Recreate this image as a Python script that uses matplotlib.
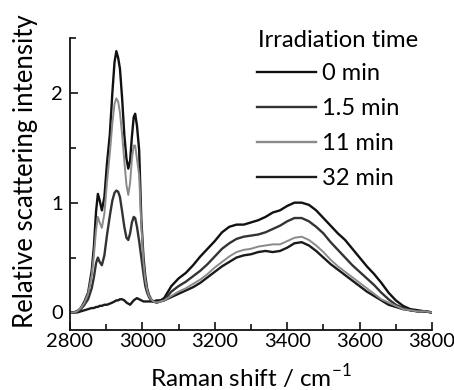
import matplotlib
matplotlib.use("Agg")
import matplotlib.pyplot as plt

plt.rcParams['font.family'] = ['Lato', 'DejaVu Sans']

# Raman shift (cm^-1)
shift = [2800, 2810, 2820, 2830, 2840, 2850, 2860, 2866, 2872, 2877, 2882, 2888, 2895,
         2902, 2910, 2917, 2923, 2928, 2933, 2938, 2944, 2950, 2956, 2961, 2966, 2971,
         2976, 2980, 2985, 2991, 2997, 3003, 3008, 3013, 3018, 3024, 3030, 3040, 3050,
         3060, 3080, 3100, 3120, 3140, 3160, 3180, 3200, 3220, 3240, 3260, 3280, 3300,
         3320, 3340, 3360, 3380, 3400, 3420, 3440, 3460, 3480, 3500, 3520, 3540, 3560,
         3580, 3600, 3620, 3640, 3660, 3680, 3700, 3720, 3740, 3760, 3780, 3800]

t0_min = [0.00, 0.00, 0.01, 0.04, 0.10, 0.18, 0.38, 0.60, 0.92, 1.08, 1.02, 0.93, 1.05,
          1.35, 1.62, 2.00, 2.28, 2.38, 2.32, 2.22, 1.95, 1.62, 1.40, 1.31, 1.38, 1.60,
          1.78, 1.81, 1.70, 1.48, 0.85, 0.50, 0.33, 0.22, 0.16, 0.12, 0.10, 0.09, 0.11,
          0.13, 0.24, 0.31, 0.36, 0.43, 0.51, 0.58, 0.65, 0.73, 0.78, 0.80, 0.80, 0.82,
          0.84, 0.87, 0.91, 0.93, 0.97, 1.00, 1.00, 0.98, 0.93, 0.86, 0.79, 0.72, 0.66,
          0.58, 0.50, 0.42, 0.35, 0.27, 0.18, 0.11, 0.06, 0.03, 0.02, 0.01, 0.00]

t1_5_min = [0.00, 0.00, 0.01, 0.03, 0.07, 0.12, 0.22, 0.32, 0.45, 0.50, 0.46, 0.43, 0.52,
            0.70, 0.88, 1.02, 1.09, 1.11, 1.10, 1.05, 0.92, 0.78, 0.68, 0.66, 0.72, 0.82,
            0.87, 0.86, 0.78, 0.65, 0.50, 0.35, 0.24, 0.18, 0.14, 0.11, 0.10, 0.09, 0.10,
            0.11, 0.19, 0.24, 0.28, 0.33, 0.38, 0.44, 0.51, 0.58, 0.63, 0.67, 0.69, 0.70,
            0.71, 0.73, 0.76, 0.79, 0.83, 0.86, 0.86, 0.83, 0.78, 0.72, 0.64, 0.57, 0.50,
            0.43, 0.37, 0.31, 0.25, 0.18, 0.12, 0.07, 0.04, 0.02, 0.01, 0.01, 0.00]

t11_min = [0.00, 0.00, 0.01, 0.04, 0.09, 0.17, 0.34, 0.52, 0.75, 0.87, 0.82, 0.77, 0.90,
           1.18, 1.45, 1.72, 1.90, 1.95, 1.92, 1.82, 1.62, 1.38, 1.16, 1.07, 1.18, 1.40,
           1.52, 1.52, 1.40, 1.25, 0.80, 0.46, 0.30, 0.21, 0.15, 0.12, 0.10, 0.09, 0.10,
           0.11, 0.15, 0.19, 0.22, 0.26, 0.30, 0.35, 0.41, 0.46, 0.51, 0.55, 0.57, 0.58,
           0.60, 0.61, 0.62, 0.62, 0.65, 0.68, 0.69, 0.66, 0.61, 0.55, 0.48, 0.42, 0.37,
           0.32, 0.27, 0.22, 0.17, 0.12, 0.09, 0.06, 0.03, 0.02, 0.01, 0.01, 0.00]

t32_min = [0.00, 0.00, 0.00, 0.01, 0.02, 0.03, 0.04, 0.04, 0.05, 0.05, 0.06, 0.06, 0.07,
           0.07, 0.08, 0.09, 0.10, 0.11, 0.11, 0.12, 0.12, 0.11, 0.09, 0.08, 0.07, 0.09,
           0.11, 0.12, 0.13, 0.12, 0.11, 0.10, 0.10, 0.10, 0.10, 0.10, 0.10, 0.11, 0.11,
           0.11, 0.14, 0.17, 0.20, 0.23, 0.27, 0.32, 0.37, 0.42, 0.46, 0.50, 0.52, 0.53,
           0.55, 0.56, 0.55, 0.56, 0.59, 0.63, 0.64, 0.61, 0.56, 0.50, 0.44, 0.39, 0.34,
           0.29, 0.24, 0.19, 0.15, 0.11, 0.07, 0.05, 0.03, 0.02, 0.01, 0.01, 0.00]

labels = ['0 min', '1.5 min', '11 min', '32 min']
legend_title = 'Irradiation time'
xticks = [2800, 3000, 3200, 3400, 3600, 3800]
yticks = [0, 1, 2]

fig = plt.figure(figsize=(4.54, 3.90), dpi=100)
ax = fig.add_axes([70/454, 1-330/390, 362/454, 292/390])

l0, = ax.plot(shift, t0_min, color='#111111', lw=1.7, label=labels[0])
l1, = ax.plot(shift, t1_5_min, color='#333333', lw=1.7, label=labels[1])
l3, = ax.plot(shift, t32_min, color='#1a1a1a', lw=1.7, label=labels[3])
l2, = ax.plot(shift, t11_min, color='#8a8a8a', lw=1.4, label=labels[2])

ax.set_xlim(2800, 3800)
ax.set_ylim(-0.16, 2.5)
ax.set_xticks(xticks)
ax.set_xticks([2900, 3100, 3300, 3500, 3700], minor=True)
ax.set_yticks(yticks)
ax.set_yticks([0.5, 1.5, 2.5], minor=True)
ax.tick_params(axis='both', which='both', direction='in', width=1.2, color='#111111')
ax.tick_params(axis='both', which='major', length=6, labelsize=14.5)
ax.tick_params(axis='x', which='major', pad=2)
ax.tick_params(axis='y', which='major', pad=5)
ax.tick_params(axis='both', which='minor', length=4)
for s in ['top', 'right']:
    ax.spines[s].set_visible(False)
for s in ['left', 'bottom']:
    ax.spines[s].set_linewidth(1.3)
    ax.spines[s].set_color('#111111')

ax.set_xlabel('Raman shift / cm$^{\\mathregular{-1}}$', fontsize=17.5, labelpad=9)
ax.set_ylabel('Relative scattering intensity', fontsize=18.5)
ax.yaxis.set_label_coords(-0.088, 0.543)

fig.text(258/454, 1-47/390, legend_title, ha='left', va='baseline', fontsize=17.2)

leg = ax.legend(handles=[l0, l1, l2, l3], labels=labels,
                loc='upper left', bbox_to_anchor=(257/454, 1-63/390),
                bbox_transform=fig.transFigure, frameon=False, fontsize=17,
                handlelength=2.5, handletextpad=0.25,
                labelspacing=0.59, borderpad=0, borderaxespad=0)
for h in leg.legend_handles:
    h.set_linewidth(1.7)

fig.savefig('out.png', dpi=100)
